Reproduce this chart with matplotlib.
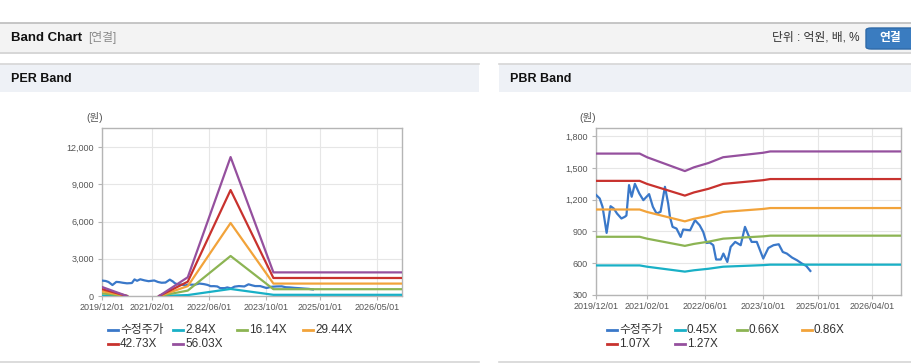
import numpy as np
import pandas as pd
import matplotlib
matplotlib.use("Agg")
import matplotlib.pyplot as plt
import matplotlib.dates as mdates
from matplotlib.patches import Rectangle, FancyBboxPatch
from matplotlib.lines import Line2D
from matplotlib.ticker import FuncFormatter

plt.rcParams['font.family'] = ['Liberation Sans', 'Noto Sans CJK KR', 'DejaVu Sans']

# -----------------------------
# data
# -----------------------------
price_dates = ["2019-12-01", "2020-01-01", "2020-01-25", "2020-02-28", "2020-04-01", "2020-04-28",
               "2020-05-25", "2020-07-01", "2020-07-28", "2020-08-12", "2020-09-03", "2020-09-25",
               "2020-10-22", "2020-11-28", "2021-01-01", "2021-02-18", "2021-03-22", "2021-04-22",
               "2021-05-25", "2021-07-01", "2021-07-28", "2021-08-12", "2021-09-03", "2021-10-06",
               "2021-11-10", "2021-12-01", "2022-01-28", "2022-03-10", "2022-04-18", "2022-05-18",
               "2022-06-15", "2022-07-12", "2022-08-10", "2022-09-03", "2022-10-12", "2022-11-03",
               "2022-12-06", "2023-01-03", "2023-02-10", "2023-03-28", "2023-05-03", "2023-06-01",
               "2023-06-28", "2023-08-10", "2023-10-03", "2023-11-15", "2023-12-28", "2024-02-10",
               "2024-03-15", "2024-04-18", "2024-06-01", "2024-07-12", "2024-08-22", "2024-09-28",
               "2024-11-01"]
price = [1245, 1211, 1132, 886, 1138, 1116,
         1069, 1022, 1037, 1050, 1337, 1227,
         1349, 1258, 1195, 1252, 1132, 1069,
         1085, 1321, 1164, 1037, 943, 927,
         848, 918, 911, 1006, 958, 895,
         791, 795, 770, 635, 635, 691,
         612, 754, 801, 770, 943, 864,
         801, 801, 644, 744, 770, 779,
         706, 691, 653, 628, 597, 574,
         527]

# PER band: EPS per point, NaN where EPS is negative
per_dates = ["2019-12-01", "2020-07-01", "2020-10-01", "2021-04-01", "2021-12-01",
             "2022-12-01", "2023-12-01", "2026-12-01"]
per_eps = [13, 0, np.nan, 0, 27, 200, 34, 34]
per_multiples = [2.84, 16.14, 29.44, 42.73, 56.03]
per_labels = ["2.84X", "16.14X", "29.44X", "42.73X", "56.03X"]
per_xticks = ["2019-12-01", "2021-02-01", "2022-06-01", "2023-10-01", "2025-01-01", "2026-05-01"]

# PBR band: BPS per point
pbr_dates = ["2019-12-01", "2020-12-01", "2021-02-01", "2021-12-15", "2022-03-01", "2022-07-01",
             "2022-11-01", "2023-03-01", "2023-10-01", "2023-12-01", "2026-12-01"]
pbr_bps = [1287, 1287, 1260, 1157, 1185, 1217, 1260, 1272, 1293, 1303, 1303]
pbr_multiples = [0.45, 0.66, 0.86, 1.07, 1.27]
pbr_labels = ["0.45X", "0.66X", "0.86X", "1.07X", "1.27X"]
pbr_xticks = ["2019-12-01", "2021-02-01", "2022-06-01", "2023-10-01", "2025-01-01", "2026-04-01"]

price_color = "#3a78c9"
band_colors = ["#19b0c6", "#8cb453", "#f2a33a", "#c8322e", "#95509e"]

W, H = 912, 364
fig = plt.figure(figsize=(W / 100, H / 100), dpi=100)
fig.patch.set_facecolor("white")


def fx(x):
    return x / W


def fy(y):
    return 1 - y / H


def frect(x0, y0, x1, y1, color):
    fig.patches.append(Rectangle((fx(x0), fy(y1)), fx(x1) - fx(x0), fy(y0) - fy(y1),
                                 transform=fig.transFigure, facecolor=color, edgecolor="none", zorder=0))


def fline(x0, x1, y, color, lw=1.0):
    fig.add_artist(Line2D([fx(x0), fx(x1)], [fy(y), fy(y)], transform=fig.transFigure,
                          color=color, lw=lw))


# -----------------------------
# page header
# -----------------------------
frect(0, 23, W, 52, "#f3f3f3")
fline(0, W, 22.5, "#bcbcbc", 1.2)
fline(0, W, 52.5, "#cfcfcf", 1.2)
fig.text(fx(11), fy(38), "Band Chart", fontsize=9.5, fontweight="bold", va="center", color="#111111")
fig.text(fx(88), fy(38), "[연결]", fontsize=8.5, va="center", color="#8a8a8a")
fig.text(fx(860), fy(38), "단위 : 억원, 배, %", fontsize=8.5, va="center", ha="right", color="#333333")
fig.patches.append(FancyBboxPatch((fx(866), fy(49)), fx(60), fy(0) - fy(21),
                                  boxstyle="round,pad=0,rounding_size=0.006",
                                  transform=fig.transFigure, facecolor="#3a7cc0", edgecolor="#2f6aa8",
                                  zorder=1))
fig.text(fx(890), fy(38.5), "연결", fontsize=8.5, fontweight="bold", va="center", ha="center", color="white")

# panel headers / borders
for x0, x1, title in [(0, 479, "PER Band"), (499, W, "PBR Band")]:
    frect(x0, 64, x1, 92, "#eef1f6")
    fline(x0, x1, 64, "#d6d6d6", 1.2)
    fline(x0, x1, 362, "#d6d6d6", 1.2)
    fig.text(fx(x0 + 11), fy(79), title, fontsize=9, fontweight="bold", va="center", color="#111111")


def draw_panel(rect, dates, base, multiples, labels, ylim, yticks, xticks, legend_x, ylab_x):
    ax = fig.add_axes(rect)
    d = pd.to_datetime(dates)
    ax.plot(pd.to_datetime(price_dates), price, color=price_color, lw=1.6, zorder=3)
    for m, c in zip(multiples, band_colors):
        ax.plot(d, np.array(base, dtype=float) * m, color=c, lw=1.6, zorder=3)
    ax.set_xlim(pd.Timestamp("2019-12-01"), pd.Timestamp("2026-12-01"))
    ax.set_ylim(*ylim)
    ax.set_yticks(yticks)
    ax.yaxis.set_major_formatter(FuncFormatter(lambda v, p: f"{int(v):,}"))
    ax.set_xticks(pd.to_datetime(xticks))
    ax.xaxis.set_major_formatter(mdates.DateFormatter("%Y/%m/%d"))
    ax.grid(True, color="#e6e6e6", lw=0.8)
    ax.set_axisbelow(True)
    for s in ax.spines.values():
        s.set_color("#b5b5b5")
        s.set_linewidth(1.0)
    ax.tick_params(axis="both", labelsize=6.5, labelcolor="#555555", color="#b5b5b5", length=3)
    ax.tick_params(axis="y", pad=3)
    ax.tick_params(axis="x", pad=2)

    fig.text(fx(ylab_x), fy(118), "(원)", fontsize=7.5, ha="center", va="center", color="#555555")

    # legend
    items = [("수정주가", price_color)] + list(zip(labels, band_colors))
    for i, (lab, c) in enumerate(items):
        row, col = divmod(i, 4)
        x = legend_x[col]
        y = 330 + row * 14
        fig.add_artist(Line2D([fx(x), fx(x + 10)], [fy(y), fy(y)], transform=fig.transFigure,
                              color=c, lw=2.0))
        fig.text(fx(x + 12), fy(y), lab, fontsize=8.5, va="center", color="#333333")
    return ax


draw_panel([fx(102), fy(296), fx(402) - fx(102), fy(128) - fy(296)],
           per_dates, per_eps, per_multiples, per_labels,
           (0, 13550), [0, 3000, 6000, 9000, 12000], per_xticks,
           [108, 173, 237, 303], 95)

draw_panel([fx(596), fy(295), fx(901) - fx(596), fy(128) - fy(295)],
           pbr_dates, pbr_bps, pbr_multiples, pbr_labels,
           (300, 1876), [300, 600, 900, 1200, 1500, 1800], pbr_xticks,
           [607, 675, 737, 802], 588)

plt.savefig("out.png", dpi=100)
